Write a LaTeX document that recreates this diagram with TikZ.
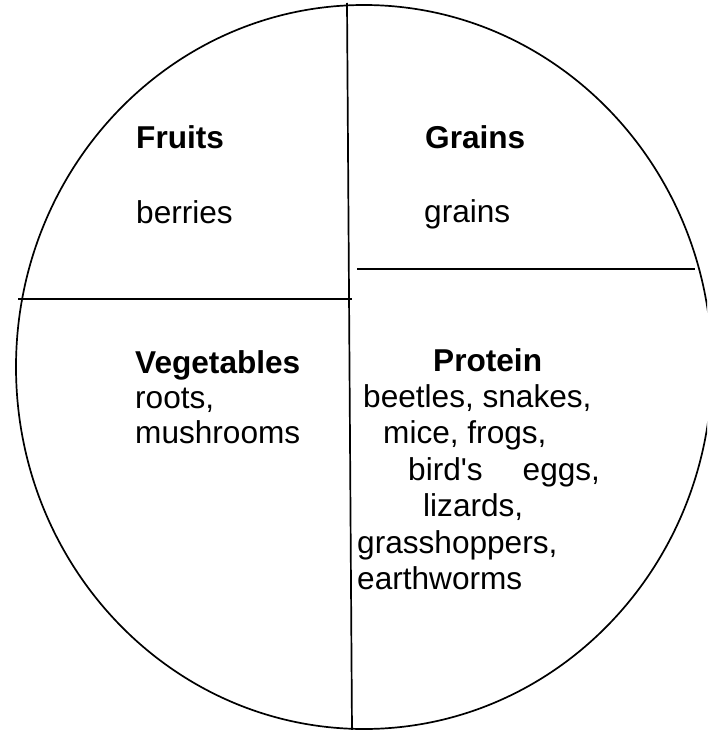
\documentclass[tikz,border=0pt]{standalone}
\usepackage{fontspec}
\setmainfont{Liberation Sans}
\begin{document}
\begin{tikzpicture}[x=1pt,y=-1pt,
  lbl/.style={anchor=base west,inner sep=0pt,font=\fontsize{31.6}{36}\selectfont},
  head/.style={lbl,font=\fontsize{31.6}{36}\selectfont\bfseries},
  divider/.style={draw=black,line width=1.7pt}]
\useasboundingbox (0,0) rectangle (707,730);
\clip (0,0) rectangle (707,730);
\fill[white] (0,0) rectangle (707,730);
% plate outline
\draw[divider] (364,367) ellipse [x radius=348, y radius=362];
% dividers
\coordinate (vt) at (347,3);
\coordinate (vb) at (352,731);
\coordinate (hl1) at (18,299);
\coordinate (hl2) at (352,299);
\coordinate (hr1) at (357,269);
\coordinate (hr2) at (695,269);
\draw[divider] (vt) -- (vb);
\draw[divider] (hl1) -- (hl2);
\draw[divider] (hr1) -- (hr2);
% Fruits
\node[head] (fruits) at (136,149) {Fruits};
\node[lbl] (berries) at (136,223) {berries};
% Grains
\node[head] (grainsh) at (425,149) {Grains};
\node[lbl] (grains) at (424,222) {grains};
% Vegetables
\node[head] (veg) at (135,373) {Vegetables};
\node[lbl] (roots) at (135,408) {roots,};
\node[lbl] (mush) at (135,443) {mushrooms};
% Protein
\node[head] (prot) at (433,371) {Protein};
\node[lbl] (p1) at (363,407) {beetles, snakes,};
\node[lbl] (p2) at (383,443) {mice, frogs,};
\node[lbl] (p3) at (408,480) {bird\textquotesingle s\hspace{40pt}eggs,};
\node[lbl] (p4) at (423,516) {lizards,};
\node[lbl] (p5) at (357,553) {grasshoppers,};
\node[lbl] (p6) at (357,589) {earthworms};
\end{tikzpicture}
\end{document}
